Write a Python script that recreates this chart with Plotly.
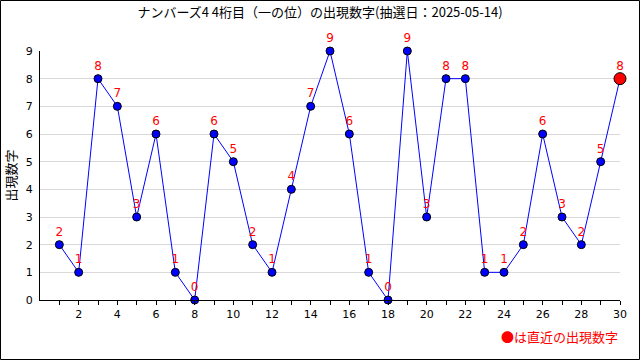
import plotly.graph_objects as go

draws = list(range(1, 31))
digits = [2, 1, 8, 7, 3, 6, 1, 0, 6, 5, 2, 1, 4, 7, 9, 6, 1, 0, 9, 3, 8, 8, 1, 1, 2, 6, 3, 2, 5, 8]
title_text = "ナンバーズ4 4桁目（一の位）の出現数字(抽選日：2025-05-14)"
y_title = "出現数字"
note_text = "●は直近の出現数字"
x_tickvals = list(range(1, 31))
x_ticktext = [str(v) if v % 2 == 0 else "" for v in x_tickvals]
y_tickvals = list(range(0, 10))

font_jp = "Noto Sans CJK JP"

fig = go.Figure()
fig.add_trace(go.Scatter(
    x=draws, y=digits, mode="lines+markers+text",
    line=dict(color="#0000ff", width=1),
    marker=dict(color="#0000ff", size=8, line=dict(color="black", width=1)),
    text=[str(d) for d in digits], textposition="top center",
    textfont=dict(color="#ff0000", size=12, family="DejaVu Sans"),
    cliponaxis=False, showlegend=False, hoverinfo="skip"))
fig.add_trace(go.Scatter(
    x=[draws[-1]], y=[digits[-1]], mode="markers",
    marker=dict(color="#ff0000", size=12, line=dict(color="black", width=1)),
    cliponaxis=False, showlegend=False, hoverinfo="skip"))

fig.update_layout(
    width=640, height=360,
    margin=dict(l=40, r=20, t=51, b=60, autoexpand=False),
    paper_bgcolor="white", plot_bgcolor="white",
    title=dict(text=title_text, x=0.5, xanchor="center", y=0.965, yanchor="middle",
               font=dict(family=font_jp, size=13, color="black")),
    font=dict(family="DejaVu Sans", size=11, color="black"),
)
fig.update_xaxes(range=[0, 30], tickvals=x_tickvals, ticktext=x_ticktext,
                 ticks="outside", ticklen=4, tickcolor="black",
                 showline=True, linecolor="black", linewidth=1,
                 showgrid=False, zeroline=False, tickangle=0, automargin=False,
                 tickfont=dict(size=11))
fig.update_yaxes(range=[0, 9], tickvals=y_tickvals,
                 showline=True, linecolor="black", linewidth=1,
                 showgrid=True, gridcolor="#d9d9d9", gridwidth=1,
                 zeroline=False, ticks="", ticklabelstandoff=4, automargin=False,
                 title=dict(text=y_title, font=dict(family=font_jp, size=13), standoff=6),
                 tickfont=dict(size=11))

fig.add_annotation(text=note_text, xref="paper", yref="paper",
                   x=1.0, y=-0.148, xanchor="right", yanchor="middle",
                   showarrow=False,
                   font=dict(family=font_jp, size=13, color="#ff0000"))

fig.add_shape(type="rect", xref="paper", yref="paper",
              x0=(0.5 - 40) / 580, x1=(639.5 - 40) / 580,
              y0=(300 - 359.5) / 249, y1=(300 - 0.5) / 249,
              line=dict(color="black", width=1), fillcolor="rgba(0,0,0,0)",
              layer="above")

fig.write_html("out.html", config={"displayModeBar": False},
               post_script="document.body.style.margin='0';")
